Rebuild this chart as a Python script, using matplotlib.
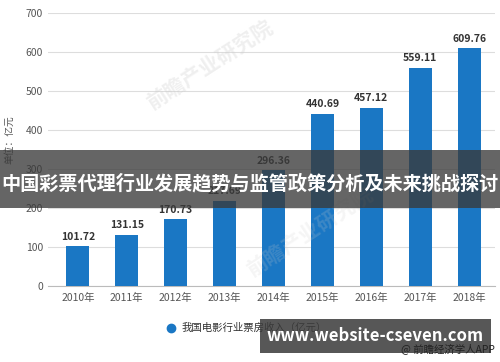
import matplotlib
matplotlib.use('Agg')
import matplotlib.pyplot as plt
from matplotlib.patches import Rectangle

plt.rcParams['font.family'] = ['Noto Sans CJK SC', 'DejaVu Sans']

# data
years = ['2010年', '2011年', '2012年', '2013年', '2014年', '2015年', '2016年', '2017年', '2018年']
box_office = [101.72, 131.15, 170.73, 217.69, 296.36, 440.69, 457.12, 559.11, 609.76]
yticks = [0, 100, 200, 300, 400, 500, 600, 700]
series_name = '我国电影行业票房收入（亿元）'
banner_title = '中国彩票代理行业发展趋势与监管政策分析及未来挑战探讨'
site = 'www.website-cseven.com'
source = '@ 前瞻经济学人APP'

bar_color = '#1a77c4'

fig = plt.figure(figsize=(5, 3.62), dpi=100)
ax = fig.add_axes([0.096, 0.21, 0.894, 0.754])

x = range(len(years))
bars = ax.bar(x, box_office, width=0.47, color=bar_color, zorder=3)
for xi, v in zip(x, box_office):
    ax.text(xi, v + 12, '%.2f' % v, ha='center', va='bottom',
            fontsize=7.5, fontweight='bold', color='#333333', zorder=4)

ax.set_xlim(-0.61, 8.53)
ax.set_ylim(0, 700)
ax.set_yticks(yticks)
ax.set_xticks(list(x))
ax.set_xticklabels(years)
ax.tick_params(axis='both', length=0, labelsize=7.5, colors='#555555')
ax.tick_params(axis='x', pad=5)
ax.grid(axis='y', color='#dddddd', linewidth=0.8, zorder=0)
for s in ['top', 'right', 'left']:
    ax.spines[s].set_visible(False)
ax.spines['bottom'].set_color('#bbbbbb')

fig.text(0.018, 0.615, '单位：亿元', rotation=90, ha='center', va='center',
         fontsize=7, color='#555555')

# faint watermarks
fig.text(0.42, 0.82, '前瞻产业研究院', rotation=33, ha='center', va='center',
         fontsize=15, fontweight='bold', color='#cccccc', alpha=0.3)
fig.text(0.62, 0.36, '前瞻产业研究院', rotation=33, ha='center', va='center',
         fontsize=15, fontweight='bold', color='#cccccc', alpha=0.2)

# legend
fig.lines.append(plt.Line2D([0.342], [1 - 328 / 362], marker='o', markersize=6,
                            color=bar_color, transform=fig.transFigure))
fig.text(0.364, 1 - 328 / 362, series_name, ha='left', va='center',
         fontsize=7.5, color='#333333')

# overlay banners
fig.patches.append(Rectangle((0, 1 - 208 / 362), 1, 58 / 362, transform=fig.transFigure,
                             facecolor='#3a3a3a', alpha=0.78, zorder=10))
fig.text(0.5, 1 - 184 / 362, banner_title, ha='center', va='center',
         fontsize=13.8, fontweight='bold', color='white', zorder=11)

fig.patches.append(Rectangle((0.52, 1 - 353 / 362), 0.462, 34 / 362, transform=fig.transFigure,
                             facecolor='#3a3a3a', alpha=0.85, zorder=10))
fig.text(0.75, 1 - 336 / 362, site, ha='center', va='center',
         fontsize=12, fontweight='bold', color='white', zorder=11)
fig.text(0.99, 1 - 349 / 362, source, ha='right', va='center',
         fontsize=7.5, color='#222222', zorder=12)

fig.savefig('out.png', dpi=100)
